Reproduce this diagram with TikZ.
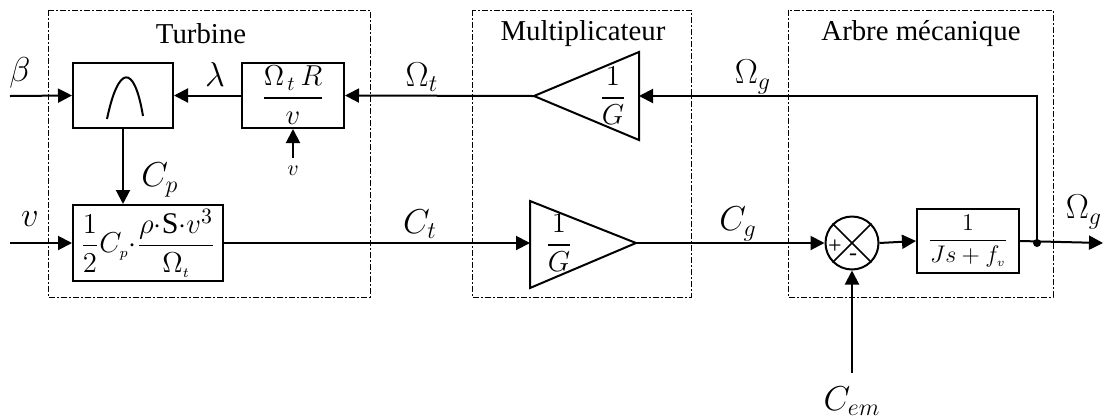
\documentclass[tikz,border=0pt]{standalone}
\usepackage{amsmath}
\usepackage{fontspec}
\setmainfont{Liberation Serif}
\usetikzlibrary{arrows.meta}

\tikzset{
  blk/.style={draw, line width=1pt, inner sep=0pt, fill=white},
  zone/.style={draw, line width=0.5pt, dash pattern=on 3pt off 1.2pt on 0.6pt off 1.2pt},
  sig/.style={line width=1pt, -{Triangle[length=7pt,width=7pt]}},
  wire/.style={line width=1pt},
  lbl/.style={inner sep=0pt, font=\fontsize{17}{20}\selectfont},
  gain/.style={inner sep=0pt, font=\fontsize{14}{17}\selectfont},
}

\begin{document}
\begin{tikzpicture}[x=0.5pt, y=-0.5pt, font=\fontsize{14.4}{17}\selectfont]
\useasboundingbox (0,0) rectangle (1105,419);

% Zones
\draw[zone] (48,10) rectangle (370,297);
\draw[zone] (472,10) rectangle (691,297);
\draw[zone] (788,10) rectangle (1053,297);
\node[inner sep=0pt] (tTurb) at (201,34) {Turbine};
\node[inner sep=0pt] (tMult) at (583,34) {Multiplicateur};
\node[inner sep=0pt] (tArbre) at (921,34) {Arbre mécanique};

% Blocs turbine
\node[blk, minimum width=50pt, minimum height=32.5pt] (cp) at (123,95.5) {};
\draw[line width=1pt] (107,119) .. controls (118,66) and (134,62) .. (143,116);
\node[blk, gain, minimum width=51pt, minimum height=32.5pt] (lam) at (293,95.5) {$\dfrac{\Omega_{\,t}\,R}{v}$};
\node[blk, font=\fontsize{15}{18}\selectfont, minimum width=75pt, minimum height=38pt] (ct) at (148,243)
  {$\dfrac{1}{2}C_{\scriptscriptstyle p}{\cdot}\dfrac{\rho{\cdot}\mathrm{S}{\cdot}v^{3}}{\Omega_{\scriptscriptstyle t}}$};

% Gains 1/G
\coordinate (gh) at (534,96);
\coordinate (ghin) at (639,96);
\draw[wire, fill=white] (gh) -- (639,52) -- (639,140) -- cycle;
\node[gain] (ghlbl) at (613,96) {$\dfrac{1}{G}$};
\coordinate (gbin) at (530,243);
\coordinate (gb) at (636,243);
\draw[wire, fill=white] (530,201) -- (530,288) -- (gb) -- cycle;
\node[gain] (gblbl) at (559,243) {$\dfrac{1}{G}$};

% Arbre
\node[draw, circle, line width=1pt, minimum size=26.5pt, inner sep=0pt] (sum) at (852,243) {};
\draw[line width=0.8pt] (sum.north west) -- (sum.south east) (sum.north east) -- (sum.south west);
\node[inner sep=0pt, font=\fontsize{12}{13}\selectfont] (plus) at (835,247) {+};
\node[inner sep=0pt, font=\fontsize{12}{13}\selectfont] (minus) at (853,257) {-};
\node[blk, font=\fontsize{12.5}{15}\selectfont, minimum width=51pt, minimum height=32pt] (tf) at (968,241)
  {$\dfrac{1}{Js+f_{\scriptscriptstyle v}}$};
\fill (1037,243) circle (2pt) coordinate (dot);

% Entrees et sorties
\coordinate (beta) at (10,96);
\coordinate (vin) at (10,243);
\coordinate (vlam) at (293,158);
\coordinate (cem) at (852,373);
\coordinate (out) at (1103,243);

% Connexions
\draw[sig] (beta) -- (cp.west);
\draw[sig] (lam.west) -- (cp.east);
\draw[sig] (vlam) -- (lam.south);
\draw[sig] (cp.south) -- (cp.south |- ct.north);
\draw[sig] (vin) -- (ct.west);
\draw[sig] (gh) -- (lam.east);
\draw[sig] (ct.east) -- (gbin);
\draw[sig] (gb) -- (sum.west);
\draw[sig] (sum.east) -- (tf.west);
\draw[sig] (cem) -- (sum.south);
\draw[sig] (tf.east) -- (out);
\draw[sig] (dot) |- (ghin);

% Etiquettes
\node[lbl] (lbeta) at (20,73) {$\beta$};
\node[lbl] (llam) at (215,74) {$\lambda$};
\node[inner sep=0pt, font=\fontsize{11}{12}\selectfont] (lv) at (293,171) {$v$};
\node[lbl] (lcp) at (160,180) {$C_p$};
\node[lbl] (lv2) at (30,219) {$v$};
\node[lbl] (lot) at (422,77) {$\Omega_t$};
\node[lbl] (log) at (753,77) {$\Omega_g$};
\node[lbl] (lct) at (420,224) {$C_t$};
\node[lbl] (lcg) at (738,224) {$C_g$};
\node[lbl] (logo) at (1084,212) {$\Omega_g$};
\node[lbl] (lcem) at (852,401) {$C_{em}$};
\end{tikzpicture}
\end{document}
